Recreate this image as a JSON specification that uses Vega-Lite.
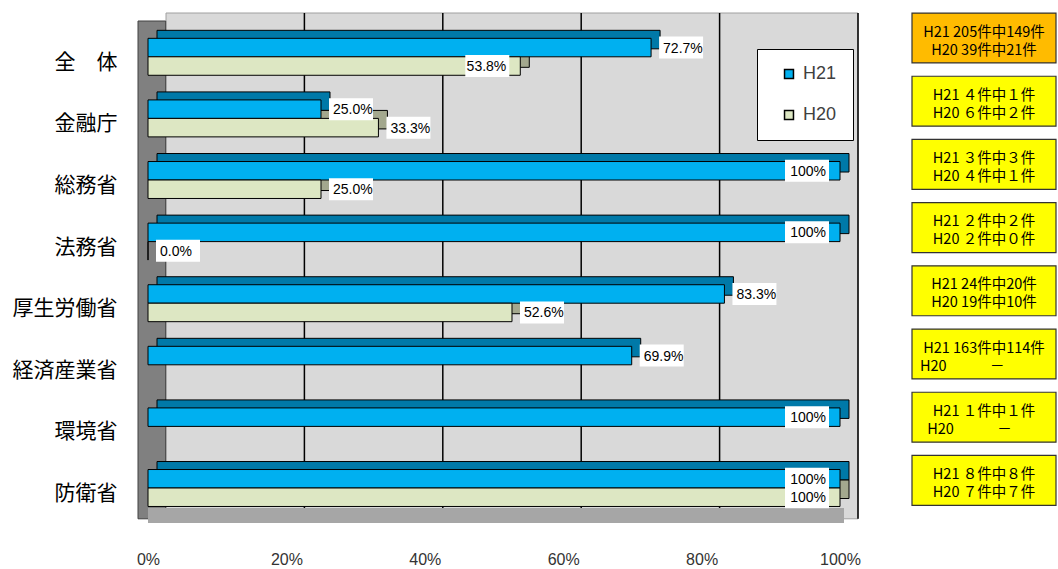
{
  "$schema": "https://vega.github.io/schema/vega-lite/v6.json",
  "padding": {"left": 12, "top": 12, "right": 0, "bottom": 0},
  "background": "white",
  "config": {"view": {"stroke": null}, "font": "Liberation Sans", "concat": {"spacing": 50}},
  "datasets": {
    "bars": [
      {"cat": "全　体", "series": "H21", "v": 0.727, "label": "72.7%"},
      {"cat": "全　体", "series": "H20", "v": 0.538, "label": "53.8%"},
      {"cat": "金融庁", "series": "H21", "v": 0.25, "label": "25.0%"},
      {"cat": "金融庁", "series": "H20", "v": 0.333, "label": "33.3%"},
      {"cat": "総務省", "series": "H21", "v": 1, "label": "100%"},
      {"cat": "総務省", "series": "H20", "v": 0.25, "label": "25.0%"},
      {"cat": "法務省", "series": "H21", "v": 1, "label": "100%"},
      {"cat": "法務省", "series": "H20", "v": 0, "label": "0.0%"},
      {"cat": "厚生労働省", "series": "H21", "v": 0.833, "label": "83.3%"},
      {"cat": "厚生労働省", "series": "H20", "v": 0.526, "label": "52.6%"},
      {"cat": "経済産業省", "series": "H21", "v": 0.699, "label": "69.9%"},
      {"cat": "環境省", "series": "H21", "v": 1, "label": "100%"},
      {"cat": "防衛省", "series": "H21", "v": 1, "label": "100%"},
      {"cat": "防衛省", "series": "H20", "v": 1, "label": "100%"}
    ],
    "boxes": [
      {"cat": "全　体", "line": "H21 205件中149件\nH20 39件中21件"},
      {"cat": "金融庁", "line": "H21 ４件中１件\nH20 ６件中２件"},
      {"cat": "総務省", "line": "H21 ３件中３件\nH20 ４件中１件"},
      {"cat": "法務省", "line": "H21 ２件中２件\nH20 ２件中０件"},
      {"cat": "厚生労働省", "line": "H21 24件中20件\nH20 19件中10件"},
      {"cat": "経済産業省", "line": "H21 163件中114件\nH20　　　－　　　\u200d"},
      {"cat": "環境省", "line": "H21 １件中１件\nH20　　　－　　\u200d"},
      {"cat": "防衛省", "line": "H21 ８件中８件\nH20 ７件中７件"}
    ],
    "grid": [{"g": 0.2}, {"g": 0.4}, {"g": 0.6}, {"g": 0.8}, {"g": 1.0}]
  },
  "resolve": {"scale": {"x": "independent", "y": "independent"}},
  "hconcat": [
    {
      "width": 692,
      "height": 492.8,
      "data": {"name": "bars"},
      "resolve": {"scale": {"yOffset": "independent"}},
      "layer": [
        {
          "data": {"values": [{"w": 1}]},
          "mark": {"type": "rect", "fill": "#D9D9D9", "stroke": "#A0A0A0", "strokeWidth": 1, "xOffset": 18, "x2Offset": 18, "yOffset": -13, "y2Offset": -13},
          "encoding": {
            "x": {"datum": 0, "type": "quantitative", "scale": {"domain": [0, 1]}},
            "x2": {"datum": 1}
          }
        },
        {
          "data": {"name": "grid"},
          "mark": {"type": "rule", "color": "#000", "strokeWidth": 1.5, "xOffset": 18, "yOffset": -13, "y2Offset": -13},
          "encoding": {"x": {"field": "g", "type": "quantitative"}}
        },
        {
          "data": {"values": [{"w": 1}]},
          "mark": {"type": "rect", "fill": "#808080", "stroke": "#404040", "strokeWidth": 1, "xOffset": -10, "x2Offset": -10, "yOffset": -5},
          "encoding": {
            "x": {"datum": 0, "type": "quantitative"},
            "x2": {"datum": 0.04}
          }
        },
        {
          "transform": [{"filter": "datum.cat === '防衛省' && datum.series === 'H21'"}],
          "mark": {"type": "rule", "color": "#A6A6A6", "strokeWidth": 15, "yOffset": 9, "xOffset": 4, "x2Offset": 14},
          "encoding": {"y": {"field": "cat", "type": "nominal", "bandPosition": 1}}
        },
        {
          "mark": {"type": "bar", "xOffset": 9, "stroke": "#000", "strokeWidth": 1},
          "encoding": {
            "x": {"field": "v", "type": "quantitative"},
            "y": {"field": "cat", "type": "nominal"},
            "yOffset": {"field": "series", "type": "nominal", "scale": {"domain": ["H21", "H20"], "range": [-8, 29]}},
            "fill": {"condition": {"test": "datum.series === 'H21'", "value": "#0079A8"}, "value": "#A3A88E"}
          }
        },
        {
          "mark": {"type": "bar", "stroke": "#000", "strokeWidth": 1},
          "encoding": {
            "x": {"field": "v", "type": "quantitative", "scale": {"domain": [0, 1]},
              "axis": {"title": null, "values": [0, 0.2, 0.4, 0.6, 0.8, 1], "format": ".0%", "grid": false, "ticks": false, "domain": false, "labelFlush": false,
                "labelFont": "Liberation Sans", "labelFontSize": 16, "labelColor": "#333", "labelPadding": 33}},
            "y": {"field": "cat", "type": "nominal",
              "scale": {"domain": ["全　体", "金融庁", "総務省", "法務省", "厚生労働省", "経済産業省", "環境省", "防衛省"], "paddingInner": 0.4, "paddingOuter": 0.2},
              "axis": {"title": null, "ticks": false, "domain": false, "labelFont": "Noto Sans CJK JP", "labelFontSize": 21, "labelColor": "#000", "labelPadding": 31, "labelOffset": 6}},
            "yOffset": {"field": "series", "type": "nominal", "scale": {"domain": ["H21", "H20"]}},
            "color": {"field": "series", "type": "nominal",
              "scale": {"domain": ["H21", "H20"], "range": ["#00B0F0", "#DDE7C3"]},
              "legend": {"orient": "none", "legendX": 609, "legendY": 23, "title": null, "fillColor": "white", "strokeColor": "#000",
                "padding": 16, "symbolType": "square", "symbolSize": 80, "symbolStrokeColor": "#000", "symbolStrokeWidth": 1.5,
                "symbolOffset": 7, "labelOffset": 5, "labelFontSize": 18, "labelColor": "#404040", "rowPadding": 23}}
          }
        },
        {
          "transform": [{"filter": "datum.v < 1 && !(datum.cat === '全　体' && datum.series === 'H20')"}],
          "mark": {"type": "point", "shape": "M-1,-0.5L1,-0.5L1,0.5L-1,0.5Z", "size": 1936, "filled": true, "fill": "white", "opacity": 1, "strokeWidth": 0, "xOffset": 30},
          "encoding": {
            "x": {"field": "v", "type": "quantitative"},
            "y": {"field": "cat", "type": "nominal"},
            "yOffset": {"field": "series", "type": "nominal", "scale": {"domain": ["H21", "H20"]}}
          }
        },
        {
          "transform": [{"filter": "datum.v >= 1 || (datum.cat === '全　体' && datum.series === 'H20')"}],
          "mark": {"type": "point", "shape": "M-1,-0.5L1,-0.5L1,0.5L-1,0.5Z", "size": 1936, "filled": true, "fill": "white", "opacity": 1, "strokeWidth": 0, "xOffset": -33},
          "encoding": {
            "x": {"field": "v", "type": "quantitative"},
            "y": {"field": "cat", "type": "nominal"},
            "yOffset": {"field": "series", "type": "nominal", "scale": {"domain": ["H21", "H20"]}}
          }
        },
        {
          "transform": [{"filter": "datum.v < 1 && !(datum.cat === '全　体' && datum.series === 'H20')"}],
          "mark": {"type": "text", "align": "left", "baseline": "middle", "dx": 12, "dy": 1, "fontSize": 14, "font": "Liberation Sans", "color": "#000"},
          "encoding": {
            "x": {"field": "v", "type": "quantitative"},
            "y": {"field": "cat", "type": "nominal"},
            "yOffset": {"field": "series", "type": "nominal", "scale": {"domain": ["H21", "H20"]}},
            "text": {"field": "label"}
          }
        },
        {
          "transform": [{"filter": "datum.v >= 1 || (datum.cat === '全　体' && datum.series === 'H20')"}],
          "mark": {"type": "text", "align": "right", "baseline": "middle", "dx": -14, "dy": 1, "fontSize": 14, "font": "Liberation Sans", "color": "#000"},
          "encoding": {
            "x": {"field": "v", "type": "quantitative"},
            "y": {"field": "cat", "type": "nominal"},
            "yOffset": {"field": "series", "type": "nominal", "scale": {"domain": ["H21", "H20"]}},
            "text": {"field": "label"}
          }
        }
      ]
    },
    {
      "width": 144,
      "height": 505.6,
      "data": {"name": "boxes"},
      "encoding": {
        "y": {"field": "cat", "type": "nominal",
          "scale": {"domain": ["全　体", "金融庁", "総務省", "法務省", "厚生労働省", "経済産業省", "環境省", "防衛省"], "paddingInner": 0.21, "paddingOuter": 0.105},
          "axis": null}
      },
      "layer": [
        {
          "mark": {"type": "rect", "yOffset": -19.6, "y2Offset": -19.6, "stroke": "#333", "strokeWidth": 1.2},
          "encoding": {
            "x": {"datum": 0, "type": "quantitative", "scale": {"domain": [0, 1]}, "axis": null},
            "x2": {"datum": 1},
            "fill": {"condition": {"test": "datum.cat === '全　体'", "value": "#FFBB00"}, "value": "#FFFF00"}
          }
        },
        {
          "mark": {"type": "text", "yOffset": -25, "lineBreak": "\n", "lineHeight": 18, "fontSize": 14.5, "font": "Noto Sans CJK JP", "align": "center", "baseline": "middle", "color": "#000"},
          "encoding": {
            "x": {"datum": 0.5, "type": "quantitative"},
            "text": {"field": "line"}
          }
        }
      ]
    }
  ]
}
